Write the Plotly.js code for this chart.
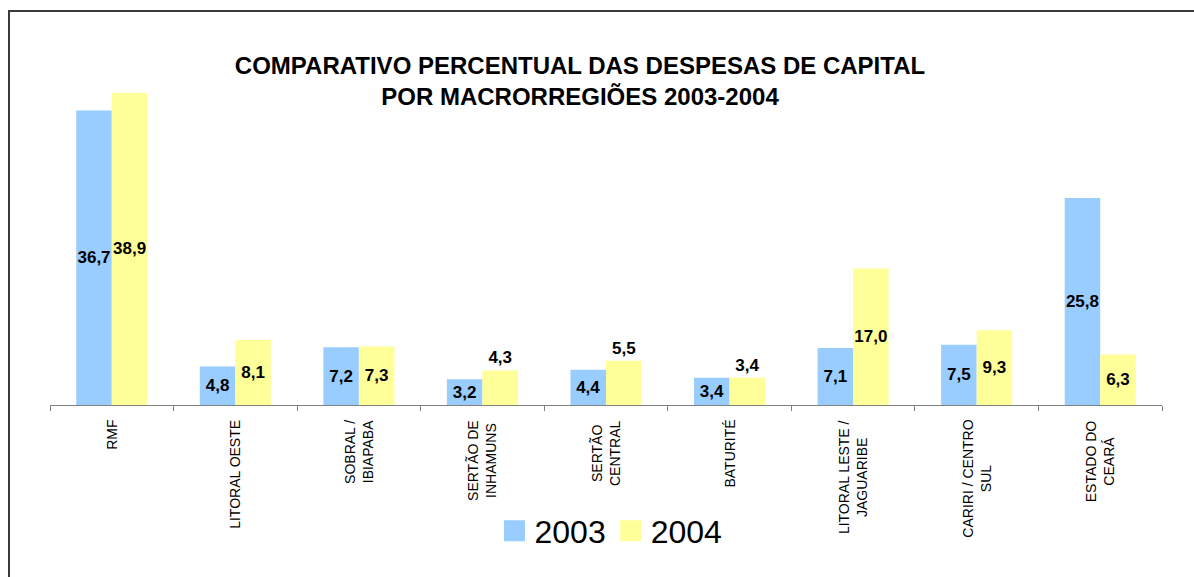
<!DOCTYPE html>
<html>
<head>
<meta charset="utf-8">
<script src="https://cdn.plot.ly/plotly-3.0.1.min.js"></script>
<style>
  html, body { margin: 0; padding: 0; background: #ffffff; overflow: hidden; }
  #chart { width: 1194px; height: 577px; }
</style>
</head>
<body>
<div id="chart"></div>
<script>
// ---- Data ----
const categories = [
  "RMF",
  "LITORAL OESTE",
  "SOBRAL /<br>IBIAPABA",
  "SERTÃO DE<br>INHAMUNS",
  "SERTÃO<br>CENTRAL",
  "BATURITÉ",
  "LITORAL LESTE /<br>JAGUARIBE",
  "CARIRI / CENTRO<br>SUL",
  "ESTADO DO<br>CEARÁ"
];
const series2003 = [36.7, 4.8, 7.2, 3.2, 4.4, 3.4, 7.1, 7.5, 25.8];
const series2004 = [38.9, 8.1, 7.3, 4.3, 5.5, 3.4, 17.0, 9.3, 6.3];
const seriesNames = ["2003", "2004"];
const titleLines = ["COMPARATIVO PERCENTUAL DAS DESPESAS DE CAPITAL", "POR MACRORREGIÕES 2003-2004"];

// ---- Styles ----
const FONT = "Liberation Sans, Arial, sans-serif";
const BLUE = "#99CCFF";
const YELLOW = "#FFFF99";
const labelFont = { family: FONT, size: 17, color: "#000000", weight: "bold" };

const barCommon = {
  type: "bar",
  x: categories,
  texttemplate: "%{y:.1f}",
  textangle: 0,
  insidetextanchor: "middle",
  constraintext: "none",
  cliponaxis: false,
  textfont: labelFont,
  insidetextfont: labelFont,
  outsidetextfont: labelFont,
  showlegend: false,
  hoverinfo: "x+y"
};

const traces = [
  Object.assign({}, barCommon, {
    name: seriesNames[0],
    y: series2003,
    marker: { color: BLUE, line: { width: 0 } },
    textposition: "inside"
  }),
  Object.assign({}, barCommon, {
    name: seriesNames[1],
    y: series2004,
    marker: { color: YELLOW, line: { width: 0 } },
    textposition: ["inside", "inside", "inside", "outside", "outside", "outside", "inside", "inside", "inside"]
  }),
  // legend keys only (large squares); a single empty (null) point so nothing is drawn
  {
    type: "scatter", mode: "markers", x: [categories[0]], y: [null], name: seriesNames[0],
    marker: { symbol: "square", size: 16, color: BLUE, line: { color: BLUE, width: 5 } },
    hoverinfo: "skip"
  },
  {
    type: "scatter", mode: "markers", x: [categories[0]], y: [null], name: seriesNames[1],
    marker: { symbol: "square", size: 16, color: YELLOW, line: { color: YELLOW, width: 5 } },
    hoverinfo: "skip"
  }
];

const W = 1194, H = 577;
const M = { l: 50, r: 32, t: 84, b: 172 };
const plotW = W - M.l - M.r, plotH = H - M.t - M.b;
const px2x = px => (px - M.l) / plotW;
const py2y = py => (H - M.b - py) / plotH;

const catAnnotations = categories.map(c => ({
  x: c, xref: "x",
  y: py2y(418), yref: "paper",
  yanchor: "top", xanchor: "center",
  textangle: -90,
  text: c,
  align: "center",
  showarrow: false,
  font: { family: FONT, size: 14, color: "#000000" }
}));

const layout = {
  width: W, height: H,
  margin: M,
  paper_bgcolor: "#ffffff",
  plot_bgcolor: "#ffffff",
  separators: ",.",
  barmode: "group",
  bargap: 0.425,
  bargroupgap: 0,
  title: {
    text: titleLines.join("<br>"),
    font: { family: FONT, size: 24, color: "#000000", weight: "bold" },
    x: 580 / W, xref: "container", xanchor: "center",
    y: 1 - 73.5 / H, yref: "container", yanchor: "middle"
  },
  xaxis: {
    type: "category",
    range: [-0.5, categories.length - 0.5],
    autorange: false,
    showline: true, linecolor: "#808080", linewidth: 1,
    ticks: "outside", ticklen: 5, tickcolor: "#808080", tickwidth: 1,
    tickson: "boundaries",
    showticklabels: false,
    showgrid: false, zeroline: false,
    fixedrange: true
  },
  yaxis: {
    range: [0, 40],
    autorange: false,
    visible: false,
    showgrid: false, zeroline: false,
    fixedrange: true
  },
  showlegend: true,
  legend: {
    orientation: "h",
    x: px2x(611), xanchor: "center",
    y: py2y(531), yanchor: "middle",
    font: { family: FONT, size: 32, color: "#000000" },
    bgcolor: "rgba(0,0,0,0)",
    borderwidth: 0,
    itemclick: false, itemdoubleclick: false
  },
  annotations: catAnnotations,
  shapes: [{
    type: "rect", xref: "paper", yref: "paper",
    x0: px2x(9), x1: px2x(1300),
    y0: py2y(700), y1: py2y(11),
    line: { color: "#3a3a3a", width: 2 },
    fillcolor: "rgba(0,0,0,0)",
    layer: "below"
  }]
};

Plotly.newPlot("chart", traces, layout, { displayModeBar: false, staticPlot: true });
</script>
</body>
</html>
